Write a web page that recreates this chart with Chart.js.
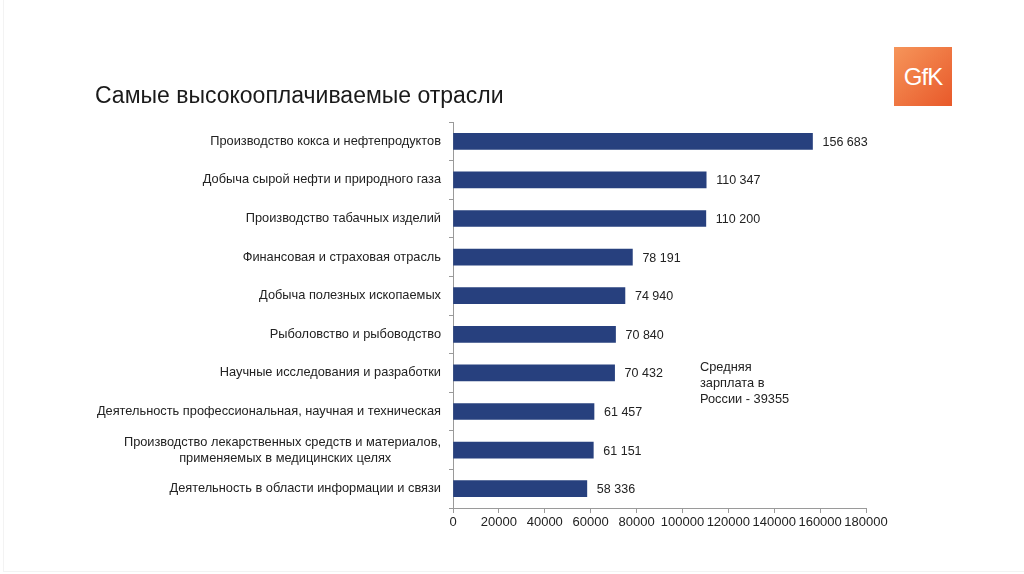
<!DOCTYPE html>
<html>
<head>
<meta charset="utf-8">
<script src="https://cdn.jsdelivr.net/npm/chart.js@4/dist/chart.umd.min.js"></script>
<style>
  body { margin: 0; background: #fff; }
  #wrap { position: relative; width: 1024px; height: 574px; overflow: hidden; font-family: "Liberation Sans", Arial, sans-serif; }
  #frame { position: absolute; left: 3px; top: -2px; width: 1024px; height: 573px; border-left: 1px solid #f3f3f3; border-bottom: 1px solid #f3f3f3; }
  #title { position: absolute; left: 95px; top: 82px; font-size: 23px; color: #1a1a1a; }
  #note { position: absolute; left: 700px; top: 359px; font-size: 12.8px; line-height: 15.8px; color: #222; }
  #logo { position: absolute; left: 894px; top: 47px; width: 58px; height: 59px; background: linear-gradient(135deg, #f6955a, #e8592a);
          color: #fff; font-size: 24px; text-align: center; line-height: 59px; letter-spacing: -1px; }
  canvas { position: absolute; left: 0; top: 0; }
</style>
</head>
<body>
<div id="wrap">
  <div id="frame"></div>
  <canvas id="myChart" width="1024" height="574"></canvas>
  <div id="title">Самые высокооплачиваемые отрасли</div>
  <div id="note">Средняя<br>зарплата в<br>России - 39355</div>
  <div id="logo">GfK</div>
</div>
<script>
// industries, top to bottom
const industries = [
  "Производство кокса и нефтепродуктов",
  "Добыча сырой нефти и природного газа",
  "Производство табачных изделий",
  "Финансовая и страховая отрасль",
  "Добыча полезных ископаемых",
  "Рыболовство и рыбоводство",
  "Научные исследования и разработки",
  "Деятельность профессиональная, научная и техническая",
  ["Производство лекарственных средств и материалов,", "применяемых в медицинских целях" + "\u00a0".repeat(14)],
  "Деятельность в области информации и связи",
];
const salaries = [156683, 110347, 110200, 78191, 74940, 70840, 70432, 61457, 61151, 58336];
const xTicks = [0, 20000, 40000, 60000, 80000, 100000, 120000, 140000, 160000, 180000];

function spaced(n) {
  return String(n).replace(/\B(?=(\d{3})+(?!\d))/g, " ");
}

// value labels to the right of each bar
const valueLabels = {
  id: "valueLabels",
  afterDatasetsDraw(chart) {
    const c = chart.ctx;
    const meta = chart.getDatasetMeta(0);
    c.save();
    c.font = "12.5px 'Liberation Sans', Arial, sans-serif";
    c.fillStyle = "#222";
    c.textBaseline = "middle";
    meta.data.forEach((bar, i) => {
      c.fillText(spaced(salaries[i]), bar.x + 10, bar.y + 1);
    });
    c.restore();
  },
};

const ctx = document.getElementById("myChart").getContext("2d");
const chart = new Chart(ctx, {
  type: "bar",
  data: {
    labels: industries,
    datasets: [
      {
        data: salaries,
        backgroundColor: "#27407e",
        barThickness: 16,
      },
    ],
  },
  options: {
    indexAxis: "y",
    responsive: false,
    animation: false,
    layout: { padding: { top: 122, right: 158, left: 0, bottom: 0 } },
    plugins: { legend: { display: false }, tooltip: { enabled: false } },
    scales: {
      x: {
        min: 0,
        max: 180000,
        afterBuildTicks: (axis) => { axis.ticks = xTicks.map((v) => ({ value: v })); },
        afterFit: (axis) => { axis.height = 66; },
        border: { color: "#9a9a9a" },
        grid: { drawOnChartArea: false, tickLength: 5, color: "#9a9a9a" },
        ticks: {
          color: "#222",
          font: { family: "'Liberation Sans', Arial, sans-serif", size: 13 },
          padding: 2,
          maxRotation: 0,
          autoSkip: false,
          callback: (v) => String(v),
        },
      },
      y: {
        afterFit: (axis) => { axis.width = 453; },
        border: { color: "#9a9a9a" },
        grid: { drawOnChartArea: false, tickLength: 4, color: "#9a9a9a" },
        ticks: {
          color: "#222",
          font: { family: "'Liberation Sans', Arial, sans-serif", size: 12.8, lineHeight: 1.25 },
          padding: 8,
          autoSkip: false,
        },
      },
    },
  },
  plugins: [valueLabels],
});
</script>
</body>
</html>
